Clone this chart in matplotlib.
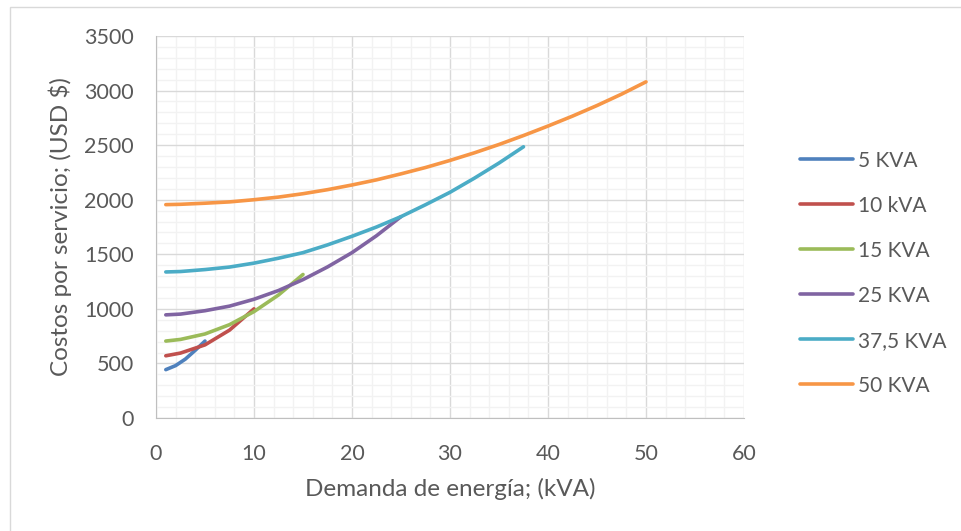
import matplotlib.pyplot as plt
from matplotlib.ticker import MultipleLocator
from matplotlib.patches import Rectangle

plt.rcParams['font.family'] = ['Lato', 'DejaVu Sans']

# demanda (kVA) y costo (USD) por transformador
x_5 = [1, 2, 3, 4, 5]
y_5 = [443, 480, 540, 620, 705]

x_10 = [1, 2.5, 5, 7.5, 10]
y_10 = [570, 595, 670, 805, 1000]

x_15 = [1, 2.5, 5, 7.5, 10, 12.5, 15]
y_15 = [705, 720, 770, 855, 975, 1127, 1315]

x_25 = [1, 2.5, 5, 7.5, 10, 12.5, 15, 17.5, 20, 22.5, 25]
y_25 = [945, 952, 983, 1025, 1088, 1168, 1268, 1384, 1515, 1670, 1845]

x_375 = [1, 2.5, 5, 7.5, 10, 12.5, 15, 17.5, 20, 22.5, 25, 27.5, 30, 32.5, 35, 37.5]
y_375 = [1338, 1342, 1360, 1383, 1419, 1464, 1515, 1586, 1665, 1750, 1845, 1954, 2068, 2198, 2336, 2485]

x_50 = [1, 2.5, 5, 7.5, 10, 12.5, 15, 17.5, 20, 22.5, 25, 27.5, 30, 32.5, 35, 37.5, 40, 42.5, 45, 47.5, 50]
y_50 = [1955, 1958, 1968, 1980, 2000, 2024, 2055, 2092, 2135, 2182, 2237, 2295, 2360, 2430, 2506, 2588, 2675, 2766, 2863, 2967, 3080]

series = [
    (x_5, y_5, '5 KVA', '#4F81BD'),
    (x_10, y_10, '10 kVA', '#C0504D'),
    (x_15, y_15, '15 KVA', '#9BBB59'),
    (x_25, y_25, '25 KVA', '#8064A2'),
    (x_375, y_375, '37,5 KVA', '#4BACC6'),
    (x_50, y_50, '50 KVA', '#F79646'),
]

fig = plt.figure(figsize=(9.61, 5.31), dpi=100)
ax = fig.add_axes([156 / 961, 113 / 531, 588 / 961, 382 / 531])

for xs, ys, name, c in series:
    ax.plot(xs, ys, color=c, lw=2.6, label=name, solid_capstyle='round')

ax.set_xlim(0, 60)
ax.set_ylim(0, 3500)
ax.xaxis.set_major_locator(MultipleLocator(10))
ax.xaxis.set_minor_locator(MultipleLocator(2))
ax.yaxis.set_major_locator(MultipleLocator(500))
ax.yaxis.set_minor_locator(MultipleLocator(100))
ax.grid(which='major', color='#D9D9D9', lw=1.0)
ax.grid(which='minor', color='#F2F2F2', lw=1.0)
ax.set_axisbelow(True)
ax.tick_params(which='both', length=0, labelsize=15.5, colors='#595959')
ax.tick_params(axis='x', pad=19)
ax.tick_params(axis='y', pad=16)
for s in ['top', 'right']:
    ax.spines[s].set_visible(False)
for s in ['left', 'bottom']:
    ax.spines[s].set_color('#BFBFBF')

ax.set_xlabel('Demanda de energía; (kVA)', fontsize=17.5, color='#595959', labelpad=10)
ax.set_ylabel('Costos por servicio; (USD $)', fontsize=17.5, color='#595959', labelpad=9)

fig.legend(loc='upper left', bbox_to_anchor=(781 / 961, 1 - 132 / 531), frameon=False,
           fontsize=15, labelspacing=1.2, handlelength=2.55, handletextpad=0.25,
           labelcolor='#595959')

# marco del grafico
fig.patches.append(Rectangle((10 / 961, -0.1), 1.2, (524 / 531) + 0.1, transform=fig.transFigure,
                             fill=False, edgecolor='#D9D9D9', lw=1.0))

fig.savefig('out.png', dpi=100)
